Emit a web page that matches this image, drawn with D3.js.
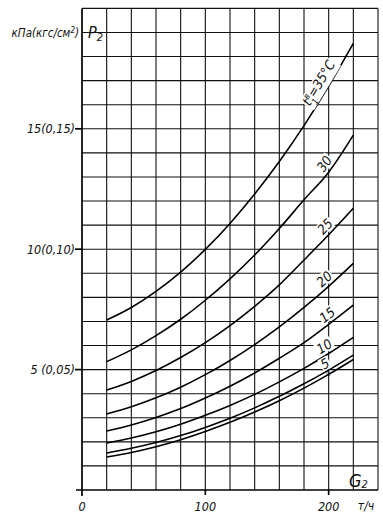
<!DOCTYPE html>
<html>
<head>
<meta charset="utf-8">
<script src="https://cdn.jsdelivr.net/npm/d3@7"></script>
<style>
	body { margin: 0; background: #fff; }
	svg { display: block; }
	text { font-family: "Liberation Sans Narrow", "DejaVu Sans Condensed", "Liberation Sans", sans-serif; font-style: italic; fill: #111; }
</style>
</head>
<body>
<svg></svg>
<script>
// flow rate G2, t/h
const flow = [20, 40, 60, 80, 100, 120, 140, 160, 180, 200, 220];
// pressure P2, kPa, one list per temperature t1
const p35 = [7.06, 7.58, 8.25, 9.05, 9.99, 11.07, 12.29, 13.64, 15.13, 16.77, 18.55];
const p30 = [5.33, 5.82, 6.41, 7.09, 7.88, 8.77, 9.76, 10.86, 12.05, 13.2, 14.74];
const p25 = [4.15, 4.51, 4.96, 5.50, 6.12, 6.83, 7.63, 8.52, 9.55, 10.6, 11.7];
const p20 = [3.16, 3.46, 3.83, 4.27, 4.79, 5.38, 6.04, 6.77, 7.58, 8.46, 9.41];
const p15 = [2.45, 2.70, 3.01, 3.38, 3.82, 4.31, 4.86, 5.47, 6.12, 6.88, 7.68];
const p10 = [1.95, 2.16, 2.42, 2.73, 3.10, 3.51, 3.97, 4.49, 5.05, 5.67, 6.34];
const p5 = [1.54, 1.73, 1.97, 2.26, 2.60, 2.98, 3.41, 3.89, 4.41, 4.98, 5.60];
const p0 = [1.37, 1.56, 1.80, 2.09, 2.43, 2.81, 3.24, 3.71, 4.23, 4.80, 5.42];
const temps = ['35', '30', '25', '20', '15', '10', '5', '0'];
const series = [p35, p30, p25, p20, p15, p10, p5, p0];

const yTicks = [5, 10, 15];
const yTickLabels = ['5 (0,05)', '10(0,10)', '15(0,15)'];
const xTicks = [0, 100, 200];
const xTickLabels = ['0', '100', '200'];

const W = 383, H = 516;
const svg = d3.select('svg').attr('width', W).attr('height', H);

const x = d3.scaleLinear().domain([0, 240]).range([82, 378]);
const y = d3.scaleLinear().domain([0, 20]).range([490, 8.4]);

// grid
const grid = svg.append('g').attr('stroke', '#111').attr('stroke-width', 1.1);
grid.selectAll('.vg')
	.data(d3.range(20, 241, 20))
	.enter().append('line')
	.attr('x1', d => x(d)).attr('x2', d => x(d))
	.attr('y1', y(0)).attr('y2', y(20));
grid.selectAll('.hg')
	.data(d3.range(1, 21, 1))
	.enter().append('line')
	.attr('x1', x(0)).attr('x2', x(240))
	.attr('y1', d => y(d)).attr('y2', d => y(d));

// axes
const axes = svg.append('g').attr('stroke', '#000').attr('stroke-width', 1.7);
axes.append('line').attr('x1', x(0)).attr('x2', x(0)).attr('y1', y(20)).attr('y2', y(0) + 6);
axes.append('line').attr('x1', x(0) - 6).attr('x2', x(240)).attr('y1', y(0)).attr('y2', y(0));
axes.selectAll('.xt')
	.data(xTicks.slice(1))
	.enter().append('line')
	.attr('x1', d => x(d)).attr('x2', d => x(d))
	.attr('y1', y(0)).attr('y2', y(0) + 5);
axes.selectAll('.yt')
	.data(yTicks)
	.enter().append('line')
	.attr('x1', x(0) - 7).attr('x2', x(0))
	.attr('y1', d => y(d)).attr('y2', d => y(d));

svg.selectAll('.ylab')
	.data(yTicks)
	.enter().append('text')
	.attr('x', x(0) - 7)
	.attr('y', d => y(d) + 4.5)
	.attr('text-anchor', 'end')
	.attr('font-size', 12.5)
	.text((d, i) => yTickLabels[i]);

svg.selectAll('.xlab')
	.data(xTicks)
	.enter().append('text')
	.attr('x', d => x(d))
	.attr('y', 511)
	.attr('text-anchor', 'middle')
	.attr('font-size', 12.5)
	.text((d, i) => xTickLabels[i]);

svg.append('text').attr('x', 366).attr('y', 510).attr('text-anchor', 'middle')
	.attr('font-size', 12).text('т/ч');

svg.append('text').attr('x', 79).attr('y', 37).attr('text-anchor', 'end')
	.attr('font-size', 11.5).html('кПа(кгс/см<tspan dy="-4" font-size="8">2</tspan><tspan dy="4">)</tspan>');

svg.append('text').attr('x', 88).attr('y', 38).attr('font-size', 16)
	.html('P<tspan dy="3" font-size="11">2</tspan>');

svg.append('text').attr('x', 349).attr('y', 487).attr('font-size', 18)
	.html('G<tspan dy="1" font-size="11">2</tspan>');

// curves
const line = d3.line()
	.x((d, i) => x(flow[i]))
	.y(d => y(d))
	.curve(d3.curveMonotoneX);

svg.append('g').selectAll('path')
	.data(series)
	.enter().append('path')
	.attr('fill', 'none')
	.attr('stroke', '#000')
	.attr('stroke-width', 1.6)
	.attr('d', line);

// curve labels, placed along each curve near its upper end
const labelG = [199, 202, 202, 201, 203, 200, 200, 200];
const labelOff = [10, 8, 8, 8, 8, 8, 7, 1];
function pAt(vals, g) {
	const i = d3.bisectRight(flow, g) - 1;
	const t = (g - flow[i]) / (flow[i + 1] - flow[i]);
	return vals[i] + t * (vals[i + 1] - vals[i]);
}
const labels = svg.append('g');
series.forEach((vals, k) => {
	const gv = labelG[k];
	const px = x(gv), py = y(pAt(vals, gv));
	const dx = x(gv + 4) - x(gv - 4);
	const dy = y(pAt(vals, gv + 4)) - y(pAt(vals, gv - 4));
	const ang = Math.atan2(dy, dx);
	const off = labelOff[k];
	const cx = px + Math.sin(ang) * off;
	const cy = py - Math.cos(ang) * off;
	const g = labels.append('g')
		.attr('transform', 'translate(' + cx + ',' + cy + ') rotate(' + (ang * 180 / Math.PI) + ')');
	const t = g.append('text')
		.attr('text-anchor', 'middle')
		.attr('y', k === 7 ? 2.5 : 4.5)
		.attr('font-size', k === 7 ? 7 : 13.5);
	if (k === 0) {
		t.html('t<tspan dy="-5" font-size="9">в</tspan><tspan dx="-5" dy="10" font-size="9">1</tspan><tspan dy="-5">=35°C</tspan>');
	} else {
		t.text(temps[k]);
	}
	const bb = t.node().getBBox();
	if (k !== 7) {
		g.insert('rect', 'text')
			.attr('x', bb.x - 1).attr('y', bb.y + 1.5)
			.attr('width', bb.width + 2).attr('height', bb.height - 3)
			.attr('fill', '#fff');
	}
});
</script>
</body>
</html>
